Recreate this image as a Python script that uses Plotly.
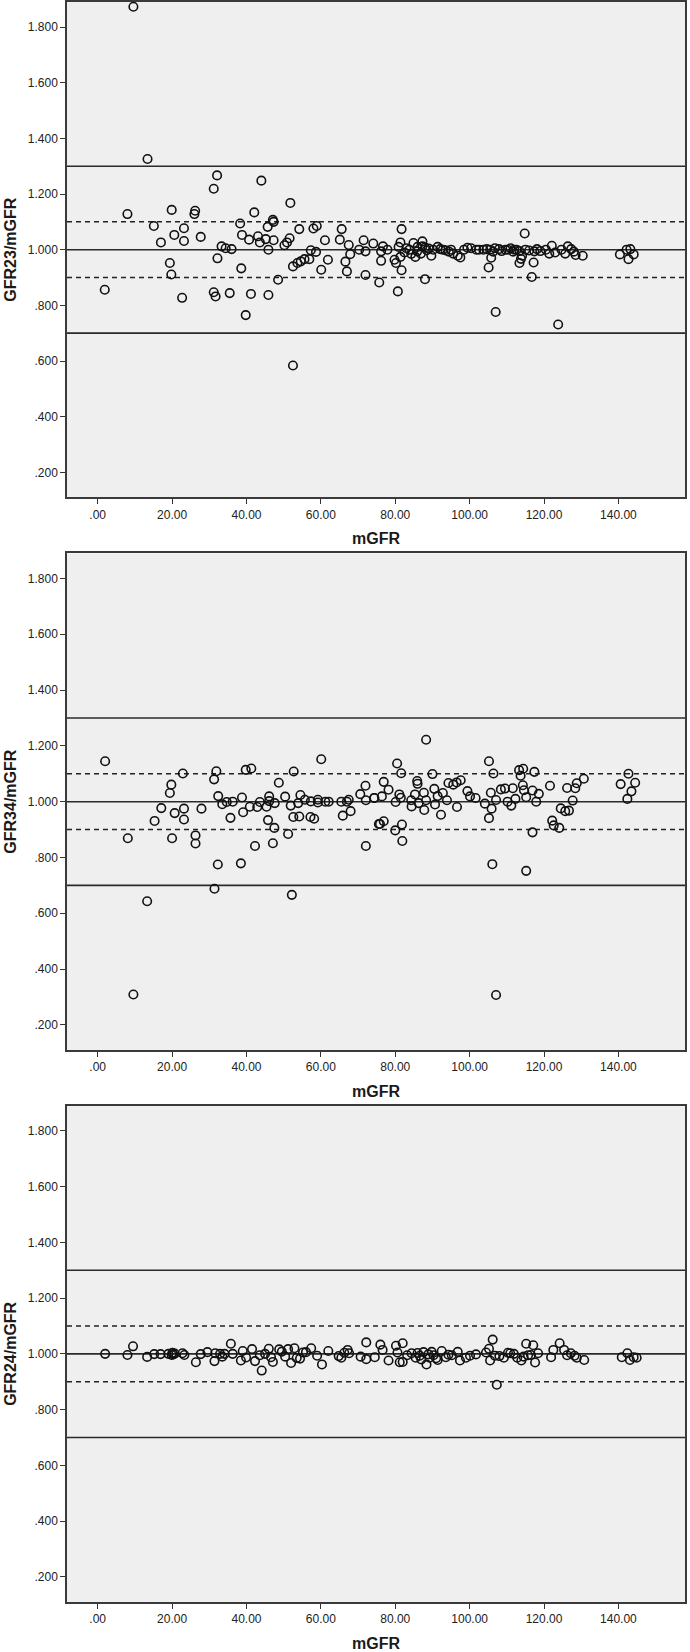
import plotly.graph_objects as go
from plotly.subplots import make_subplots

# ---------------- data ----------------
x_tick_vals = [0, 20, 40, 60, 80, 100, 120, 140]
x_tick_text = [".00", "20.00", "40.00", "60.00", "80.00", "100.00", "120.00", "140.00"]
y_tick_vals = [0.2, 0.4, 0.6, 0.8, 1.0, 1.2, 1.4, 1.6, 1.8]
y_tick_text = [".200", ".400", ".600", ".800", "1.000", "1.200", "1.400", "1.600", "1.800"]
y_titles = ["GFR23/mGFR", "GFR34/mGFR", "GFR24/mGFR"]
x_title = "mGFR"
ref_solid = [1.3, 1.0, 0.7]
ref_dash = [1.1, 0.9]

p1_x = [9.6, 13.4, 52.5, 32.1, 31.2, 44.0, 51.8, 8.0, 19.9, 26.2, 26.0, 42.1, 47.1, 47.3, 15.1, 23.2,
        20.6, 17.0, 23.2, 27.7, 38.3, 38.8, 40.7, 43.1, 43.6, 45.2, 45.7, 47.3, 45.9, 50.2, 50.9, 51.6,
        54.2, 58.0, 58.9, 61.1, 65.6, 65.1, 67.5, 33.3, 34.4, 36.0, 32.2, 19.4, 19.8, 38.6, 52.5, 53.7,
        54.6, 55.6, 56.9, 57.3, 58.7, 60.1, 61.9, 66.6, 67.0, 67.9, 70.3, 71.5, 72.0, 72.0, 74.1, 76.2,
        76.2, 76.7, 77.9, 75.7, 80.7, 81.7, 81.4, 79.8, 80.2, 81.4, 81.7, 80.9, 83.8, 84.9, 85.4, 85.9,
        87.3, 87.3, 86.9, 88.0, 88.5, 89.7, 91.4, 92.1, 93.5, 94.4, 95.6, 96.8, 97.5, 99.4, 100.4, 101.8,
        103.7, 104.6, 105.1, 105.8, 106.3, 107.0, 107.9, 109.6, 111.0, 111.7, 112.6, 113.4, 113.8, 113.4,
        114.1, 114.8, 115.0, 116.7, 117.2, 117.4, 118.1, 121.4, 122.1, 123.8, 124.7, 125.7, 126.4, 127.3,
        128.0, 128.5, 130.4, 140.4, 142.2, 142.7, 143.2, 144.1, 1.9, 22.7, 31.2, 31.7, 35.5, 39.8, 41.2,
        45.9, 48.5, 82.5, 83.0, 84.3, 86.0, 88.0, 89.0, 90.2, 92.8, 95.0, 98.5, 102.5, 105.5, 106.8, 108.6,
        110.3, 112.0, 116.0, 119.0, 120.5, 123.0]
p1_y = [1.873, 1.326, 0.584, 1.267, 1.219, 1.248, 1.168, 1.128, 1.143, 1.140, 1.128, 1.134, 1.107, 1.100,
        1.085, 1.077, 1.053, 1.026, 1.031, 1.046, 1.094, 1.053, 1.036, 1.048, 1.026, 1.038, 1.082, 1.034,
        1.000, 1.016, 1.026, 1.041, 1.074, 1.076, 1.085, 1.034, 1.074, 1.036, 1.017, 1.012, 1.005, 1.002,
        0.969, 0.952, 0.911, 0.933, 0.940, 0.952, 0.958, 0.966, 0.966, 0.998, 0.992, 0.928, 0.964, 0.957,
        0.922, 0.984, 1.000, 1.034, 0.994, 0.909, 1.022, 0.994, 0.960, 1.012, 1.000, 0.882, 0.850, 1.074,
        1.026, 0.964, 0.952, 0.974, 0.926, 1.010, 1.000, 1.024, 0.974, 0.994, 1.030, 1.012, 0.986, 0.894,
        0.998, 0.978, 1.010, 1.002, 0.998, 0.993, 0.986, 0.978, 0.972, 1.007, 1.005, 1.000, 1.000, 1.002,
        0.936, 0.971, 0.993, 0.776, 1.002, 1.000, 1.005, 0.993, 1.000, 0.995, 0.967, 0.952, 0.978, 1.058,
        1.000, 0.902, 0.954, 0.994, 1.002, 0.986, 1.014, 0.731, 1.000, 0.986, 1.012, 1.002, 0.993, 0.981,
        0.978, 0.983, 1.000, 0.966, 1.002, 0.983, 0.856, 0.827, 0.847, 0.832, 0.844, 0.765, 0.841, 0.837,
        0.892, 0.990, 1.005, 0.985, 1.010, 1.008, 1.004, 1.000, 1.000, 1.000, 1.000, 1.000, 1.000, 1.005,
        0.995, 1.000, 1.000, 0.997, 0.995, 1.000, 0.990]

p2_x = [2.0, 8.1, 13.3, 9.6, 15.3, 17.1, 19.4, 19.8, 20.0, 20.7, 22.9, 23.2, 23.2, 26.3, 26.3, 27.9,
        31.3, 31.9, 31.4, 32.3, 32.4, 33.5, 34.7, 36.3, 35.7, 38.8, 38.5, 39.1, 39.8, 41.3, 40.9, 42.3,
        42.9, 43.6, 45.4, 45.8, 46.1, 46.1, 47.1, 47.5, 47.6, 48.7, 50.4, 51.2, 52.2, 51.9, 52.6, 52.7,
        53.9, 54.2, 54.5, 55.7, 57.3, 57.2, 58.2, 59.2, 59.2, 60.1, 61.2, 62.1, 65.5, 65.9, 67.0, 67.5,
        68.0, 70.6, 72.0, 72.1, 72.1, 74.4, 75.6, 88.3, 74.3, 76.4, 76.9, 78.2, 75.9, 76.9, 80.1, 80.5,
        81.6, 81.1, 81.5, 80.0, 81.8, 81.9, 84.3, 84.4, 85.3, 85.9, 86.0, 86.3, 87.7, 87.8, 88.3, 90.0,
        90.5, 90.7, 91.4, 92.3, 92.8, 93.9, 94.3, 95.6, 96.6, 96.5, 97.6, 99.4, 100.1, 101.6, 104.1, 105.2,
        105.7, 105.2, 105.9, 106.4, 106.1, 107.1, 107.1, 108.4, 109.5, 110.2, 111.2, 111.6, 112.3, 113.3,
        113.7, 114.4, 114.3, 114.6, 115.2, 115.2, 116.9, 116.9, 117.4, 117.9, 118.6, 121.6, 122.2, 122.6,
        124.1, 124.5, 125.7, 126.7, 126.2, 127.7, 128.4, 128.8, 130.7, 140.6, 142.4, 142.7, 143.5, 144.5]
p2_y = [1.145, 0.869, 0.643, 0.309, 0.931, 0.977, 1.031, 1.061, 0.869, 0.959, 1.101, 0.975, 0.936, 0.879,
        0.850, 0.975, 1.080, 1.109, 0.688, 0.775, 1.020, 0.991, 0.999, 1.000, 0.942, 1.015, 0.779, 0.962,
        1.114, 1.119, 0.982, 0.841, 0.981, 0.999, 0.982, 0.934, 1.019, 1.002, 0.851, 0.906, 0.995, 1.068,
        1.018, 0.884, 0.666, 0.986, 0.945, 1.108, 0.995, 0.947, 1.024, 1.007, 1.001, 0.945, 0.939, 1.007,
        0.997, 1.152, 1.000, 1.000, 1.000, 0.950, 1.000, 1.007, 0.966, 1.027, 1.057, 1.005, 0.841, 1.013,
        0.920, 1.222, 1.013, 1.019, 1.071, 1.043, 0.920, 0.930, 0.999, 1.137, 1.102, 1.026, 1.014, 0.897,
        0.918, 0.859, 1.005, 0.983, 1.026, 1.074, 1.064, 0.995, 1.032, 0.970, 1.005, 1.099, 1.046, 0.990,
        1.020, 0.953, 1.031, 1.005, 1.067, 1.061, 0.981, 1.069, 1.077, 1.038, 1.019, 1.013, 0.993, 1.145,
        1.032, 0.941, 0.975, 1.101, 0.776, 0.307, 1.006, 1.044, 1.047, 1.000, 0.986, 1.048, 1.010, 1.113,
        1.093, 1.118, 1.059, 1.041, 1.016, 0.752, 1.040, 0.890, 1.107, 1.000, 1.028, 1.057, 0.932, 0.915,
        0.906, 0.976, 0.966, 0.968, 1.049, 1.004, 1.048, 1.066, 1.082, 1.063, 1.010, 1.100, 1.037, 1.068]

p3_x = [2.0, 8.0, 9.5, 13.3, 15.2, 16.9, 19.0, 19.9, 20.7, 22.8, 23.3, 26.4, 27.7, 31.4, 31.6, 32.9,
        34.1, 35.8, 36.3, 38.5, 39.0, 39.9, 41.5, 42.3, 43.6, 44.1, 46.0, 46.6, 47.1, 48.8, 50.4, 51.2,
        52.0, 52.9, 54.4, 55.2, 57.4, 59.0, 60.3, 62.0, 65.5, 67.2, 67.6, 70.7, 72.2, 72.2, 74.5, 76.0,
        76.6, 78.2, 80.2, 80.6, 81.2, 82.0, 82.0, 84.4, 85.5, 86.6, 87.6, 88.4, 89.2, 90.3, 91.4, 92.5,
        93.6, 95.2, 96.8, 97.4, 99.0, 100.1, 101.7, 104.4, 105.2, 105.5, 106.2, 107.3, 106.8, 109.2, 110.9,
        111.9, 112.8, 113.9, 115.2, 115.7, 117.1, 117.6, 118.4, 121.9, 122.5, 124.2, 125.4, 126.2, 127.2,
        128.2, 128.8, 130.8, 140.9, 142.4, 143.1, 144.1, 144.9, 20.1, 20.3, 29.5, 33.5, 45.0, 49.5, 53.5,
        56.0, 64.8, 66.3, 83.2, 86.0, 87.0, 88.9, 89.8, 91.0, 94.3, 108.0, 110.3, 114.5, 116.5]
p3_y = [1.000, 0.996, 1.027, 0.989, 0.999, 0.999, 1.000, 0.996, 1.001, 1.002, 0.996, 0.970, 0.999, 0.974,
        1.002, 1.000, 1.000, 1.036, 1.000, 0.976, 1.010, 0.987, 1.017, 0.974, 0.995, 0.940, 1.018, 0.988,
        0.971, 1.016, 0.990, 1.017, 0.967, 1.020, 0.983, 1.005, 1.020, 0.993, 0.962, 1.010, 0.986, 1.014,
        1.002, 0.990, 1.041, 0.981, 0.988, 1.033, 1.014, 0.976, 1.029, 1.005, 0.970, 1.038, 0.971, 1.002,
        0.986, 0.993, 1.006, 0.962, 0.986, 0.995, 0.978, 1.010, 0.988, 0.995, 1.007, 0.976, 0.986, 0.993,
        0.998, 1.005, 1.018, 0.976, 1.051, 0.889, 0.993, 0.986, 1.002, 1.000, 0.986, 0.976, 1.036, 0.995,
        1.031, 0.969, 1.002, 0.988, 1.014, 1.038, 1.014, 0.995, 1.002, 0.993, 0.986, 0.978, 0.988, 1.002,
        0.978, 0.988, 0.986, 1.004, 0.998, 1.006, 0.990, 1.000, 1.008, 0.985, 1.006, 0.992, 1.004, 0.995,
        1.003, 0.980, 0.998, 1.007, 0.984, 0.997, 0.992, 1.004, 0.990, 0.996]

panels = [(p1_x, p1_y), (p2_x, p2_y), (p3_x, p3_y)]

# ---------------- figure ----------------
FONT = "Liberation Sans, Arial, sans-serif"
fig = make_subplots(rows=3, cols=1)
domains = [[0.6904, 1.0], [0.345, 0.6554], [0.0, 0.3102]]

for i, (xs, ys) in enumerate(panels):
    r = i + 1
    fig.add_trace(go.Scatter(x=xs, y=ys, mode="markers", showlegend=False,
                             marker=dict(symbol="circle-open", size=8.5, color="#111111",
                                         line=dict(width=1.6, color="#111111"))),
                  row=r, col=1)
    for v in ref_solid:
        fig.add_hline(y=v, line=dict(color="#2a2a2a", width=1.6), row=r, col=1, layer="below")
    for v in ref_dash:
        fig.add_hline(y=v, line=dict(color="#222222", width=1.5, dash="5px,4px"), row=r, col=1,
                      layer="below")
    sx = "" if r == 1 else str(r)
    fig.add_annotation(text=f"<b>{x_title}</b>", xref=f"x{sx} domain", yref=f"y{sx} domain",
                       x=0.5, y=0, xanchor="center", yanchor="top", yshift=-31, showarrow=False,
                       font=dict(family=FONT, size=16, color="#1a1a1a"))
    fig.add_annotation(text=f"<b>{y_titles[i]}</b>", xref=f"x{sx} domain", yref=f"y{sx} domain",
                       x=-0.0906, y=0.5, xanchor="center", yanchor="middle", textangle=-90,
                       showarrow=False, font=dict(family=FONT, size=16, color="#1a1a1a"))
    fig.update_xaxes(range=[-8.25, 157.9], tickvals=x_tick_vals, ticktext=x_tick_text,
                     showgrid=False, zeroline=False, showline=True, mirror=True,
                     linecolor="#3a3a3a", linewidth=1.5, ticks="outside", ticklen=5,
                     tickwidth=1.2, tickcolor="#333333", automargin=False,
                     tickfont=dict(family=FONT, size=12, color="#222222"), row=r, col=1)
    fig.update_yaxes(range=[0.11, 1.89], tickvals=y_tick_vals, ticktext=y_tick_text,
                     domain=domains[i], showgrid=False, zeroline=False, showline=True, mirror=True,
                     linecolor="#3a3a3a", linewidth=1.5, ticks="outside", ticklen=5,
                     tickwidth=1.2, tickcolor="#333333", automargin=False,
                     tickfont=dict(family=FONT, size=12, color="#222222"), row=r, col=1)

fig.update_layout(width=690, height=1652, margin=dict(l=67, r=5, t=2, b=50),
                  plot_bgcolor="#efefef", paper_bgcolor="#ffffff",
                  font=dict(family=FONT, size=12, color="#222222"))

fig.write_html("out.html", config={"displayModeBar": False},
               post_script="document.body.style.margin='0';document.body.style.overflow='hidden';")
